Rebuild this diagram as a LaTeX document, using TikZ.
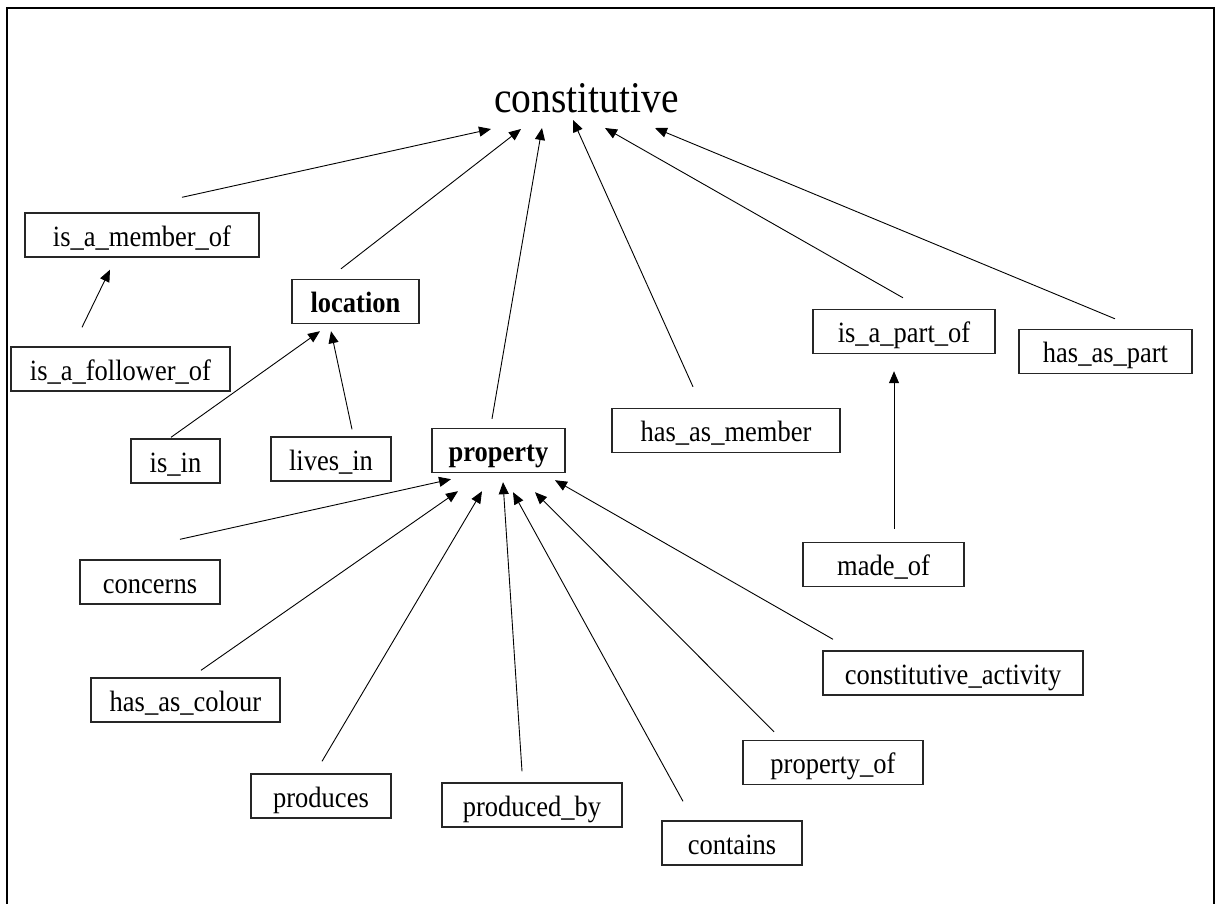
\documentclass[tikz,border=0pt]{standalone}
\usepackage{fontspec}
\usepackage{graphicx}
\setmainfont{Liberation Serif}
\usetikzlibrary{arrows.meta}
% labels are set slightly taller than the regular face
\newcommand{\tallt}[1]{\scalebox{1}[1.11]{#1}}
\begin{document}
\begin{tikzpicture}[x=1pt,y=-1pt,
  lbl/.style={draw=black!85, line width=1.4pt, inner sep=0pt,
    minimum height=44pt, font=\fontsize{26.5}{30}\selectfont,
    text height=22pt, text depth=0pt},
  boldlbl/.style={lbl, font=\fontsize{26.5}{30}\selectfont\bfseries},
  rel/.style={line width=0.9pt, -{Triangle[length=12pt,width=10pt]}}
]
\useasboundingbox (0,0) rectangle (1220,903);
% frame
\draw[line width=2.5pt] (7,906) -- (7,8) -- (1214,8) -- (1214,906);

% root
\node[font=\fontsize{39.5}{44}\selectfont, inner sep=0pt, anchor=base] (const) at (586.5,112) {\tallt{constitutive}};

% relation boxes
\node[lbl, minimum width=234pt] (imo)    at (142,235)     {\tallt{is\_a\_member\_of}};
\node[lbl, minimum width=219pt] (ifo)    at (120.5,369)   {\tallt{is\_a\_follower\_of}};
\node[boldlbl, minimum width=127pt] (loc) at (355.5,301.5) {\tallt{location}};
\node[lbl, minimum width=89pt]  (isin)   at (175.5,461)   {\tallt{is\_in}};
\node[lbl, minimum width=120pt] (lives)  at (331,459)     {\tallt{lives\_in}};
\node[boldlbl, minimum width=133pt] (prop) at (498.5,450.5) {\tallt{property}};
\node[lbl, minimum width=228pt] (ham)    at (726,430.5)   {\tallt{has\_as\_member}};
\node[lbl, minimum width=182pt] (iapo)   at (904,331.5)   {\tallt{is\_a\_part\_of}};
\node[lbl, minimum width=173pt] (hap)    at (1105.5,351.5){\tallt{has\_as\_part}};
\node[lbl, minimum width=161pt] (made)   at (883.5,564.5) {\tallt{made\_of}};
\node[lbl, minimum width=140pt] (conc)   at (150,582)     {\tallt{concerns}};
\node[lbl, minimum width=189pt] (col)    at (185.5,700)   {\tallt{has\_as\_colour}};
\node[lbl, minimum width=140pt] (prods)  at (321,796)     {\tallt{produces}};
\node[lbl, minimum width=180pt] (prodby) at (532,805)     {\tallt{produced\_by}};
\node[lbl, minimum width=140pt] (cont)   at (732,843)     {\tallt{contains}};
\node[lbl, minimum width=180pt] (propof) at (833,762.5)   {\tallt{property\_of}};
\node[lbl, minimum width=260pt] (cact)   at (953,673)     {\tallt{constitutive\_activity}};

% links to the root
\draw[rel] ([shift={(40,-15)}]imo.north)    -- ([shift={(-95.5,17)}]const.base);
\draw[rel] ([shift={(-14.5,-10)}]loc.north) -- ([shift={(-65.5,17)}]const.base);
\draw[rel] ([shift={(-6.5,-9)}]prop.north)  -- ([shift={(-44.5,16)}]const.base);
\draw[rel] ([shift={(-33,-21)}]ham.north)   -- ([shift={(-13.5,8)}]const.base);
\draw[rel] ([shift={(-1,-11)}]iapo.north)   -- ([shift={(18.5,16)}]const.base);
\draw[rel] ([shift={(9.5,-10)}]hap.north)   -- ([shift={(68.5,16)}]const.base);

% second-level links
\draw[rel] ([shift={(-38.5,-19)}]ifo.north) -- ([shift={(-32,12)}]imo.south);
\draw[rel] ([shift={(-4.5,-1)}]isin.north)  -- ([shift={(-35.5,7)}]loc.south);
\draw[rel] ([shift={(21,-7)}]lives.north)   -- ([shift={(-24.5,7)}]loc.south);
\draw[rel] ([shift={(10.5,-13)}]made.north) -- ([shift={(-10,17)}]iapo.south);

% links to property
\draw[rel] ([shift={(30,-20)}]conc.north)    -- ([shift={(-47.5,6)}]prop.south);
\draw[rel] ([shift={(15.5,-7)}]col.north)    -- ([shift={(-40.5,18)}]prop.south);
\draw[rel] ([shift={(1,-12)}]prods.north)    -- ([shift={(-16.5,18)}]prop.south);
\draw[rel] ([shift={(-10,-11)}]prodby.north) -- ([shift={(4.5,9)}]prop.south);
\draw[rel] ([shift={(-49,-19)}]cont.north)   -- ([shift={(14.5,19)}]prop.south);
\draw[rel] ([shift={(-59,-8)}]propof.north)  -- ([shift={(36.5,19)}]prop.south);
\draw[rel] ([shift={(-120,-11)}]cact.north)  -- ([shift={(56.5,7)}]prop.south);
\end{tikzpicture}
\end{document}
